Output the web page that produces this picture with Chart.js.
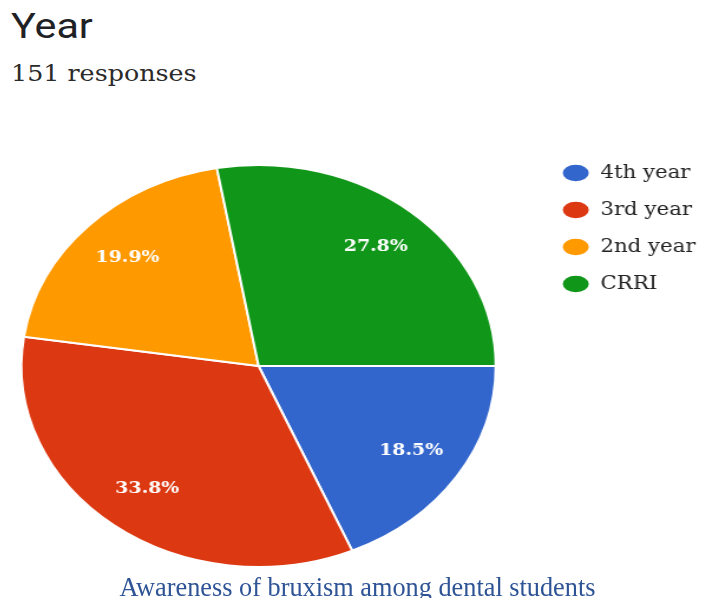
<!DOCTYPE html>
<html>
<head>
<meta charset="utf-8">
<script src="https://cdn.jsdelivr.net/npm/chart.js@4/dist/chart.umd.min.js"></script>
<style>
    body { margin: 0; width: 703px; height: 598px; overflow: hidden; background: #fff; position: relative; }
    .genis { transform: scaleX(1.18); transform-origin: 0 0; white-space: nowrap; }
    #baslik { position: absolute; left: 11px; top: 6px; font-family: Roboto, sans-serif; font-size: 35px; color: #202124; }
    #altBaslik { position: absolute; left: 11px; top: 61px; font-family: 'DejaVu Serif', serif; font-size: 21.5px; color: #2a2a2a; }
    #grafikKutu { position: absolute; left: -22px; top: 145px; width: 620px; height: 442px; }
    #aciklama { position: absolute; left: 6px; width: 703px; top: 573px; text-align: center; font-family: 'Liberation Serif', serif; font-size: 26.3px; color: #2f5496; white-space: nowrap; }
</style>
</head>
<body>
<div id="baslik" class="genis">Year</div>
<div id="altBaslik" class="genis">151 responses</div>
<div id="grafikKutu" class="genis"><canvas id="yilChart" width="620" height="442"></canvas></div>
<div id="aciklama">Awareness of bruxism among dental students</div>

<script>
// Veriler (151 yanıt)
const siniflar = ['4th year', '3rd year', '2nd year', 'CRRI'];
const yanitSayilari = [28, 51, 30, 42];
const yuzdeEtiketleri = ['18.5%', '33.8%', '19.9%', '27.8%'];
const renkler = ['#3366cc', '#dc3912', '#ff9900', '#109618'];

// Dilimlerin içine yüzde yazısı
const yuzdePlugin = {
    id: 'yuzdePlugin',
    afterDatasetsDraw(chart) {
        const ctx = chart.ctx;
        const meta = chart.getDatasetMeta(0);
        ctx.save();
        ctx.fillStyle = '#ffffff';
        ctx.font = 'bold 16px "DejaVu Serif"';
        ctx.textAlign = 'center';
        ctx.textBaseline = 'middle';
        meta.data.forEach((arc, i) => {
            const p = arc.getProps(['x', 'y', 'startAngle', 'endAngle', 'outerRadius'], true);
            const orta = (p.startAngle + p.endAngle) / 2;
            const r = p.outerRadius * 0.77;
            ctx.fillText(yuzdeEtiketleri[i], p.x + Math.cos(orta) * r, p.y + Math.sin(orta) * r);
        });
        ctx.restore();
    }
};

const yilChart = new Chart(document.getElementById('yilChart'), {
    type: 'pie',
    data: {
        labels: siniflar,
        datasets: [{
            data: yanitSayilari,
            backgroundColor: renkler,
            borderColor: '#ffffff',
            borderWidth: 2,
            radius: 201
        }]
    },
    options: {
        responsive: false,
        animation: false,
        rotation: 90,
        layout: { padding: { right: 2 } },
        plugins: {
            tooltip: { enabled: false },
            legend: {
                position: 'right',
                align: 'start',
                labels: {
                    usePointStyle: true,
                    pointStyle: 'circle',
                    pointStyleWidth: 24,
                    boxHeight: 13,
                    padding: 19,
                    color: '#222',
                    font: { family: 'DejaVu Serif', size: 18 }
                }
            }
        }
    },
    plugins: [yuzdePlugin]
});
</script>
</body>
</html>
